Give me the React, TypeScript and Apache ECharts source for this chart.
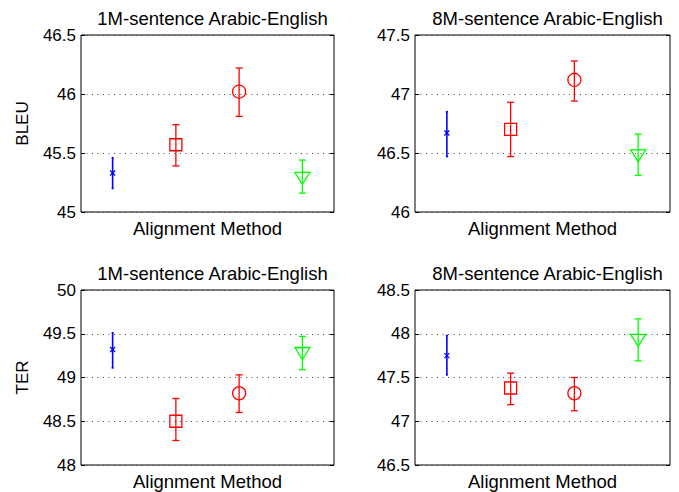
import React, { useEffect, useRef } from "react";
import * as echarts from "echarts";

// x positions of the four alignment methods
const methodPos = [1, 2, 3, 4];
const markerKinds = ["x", "square", "circle", "triangle"];
const markerColors = ["#0000ff", "#ff0000", "#ff0000", "#00ff00"];

const panelTitles = [
  "1M-sentence Arabic-English",
  "8M-sentence Arabic-English",
  "1M-sentence Arabic-English",
  "8M-sentence Arabic-English",
];
const rowNames = ["BLEU", "", "TER", ""];
const xName = "Alignment Method";

const yMin = [45, 46, 48, 46.5];
const yMax = [46.5, 47.5, 50, 48.5];

// BLEU 1M
const bleu1MMean = [45.33, 45.57, 46.02, 45.29];
const bleu1MLow = [45.2, 45.39, 45.81, 45.16];
const bleu1MHigh = [45.46, 45.74, 46.22, 45.44];
// BLEU 8M
const bleu8MMean = [46.67, 46.7, 47.12, 46.48];
const bleu8MLow = [46.47, 46.47, 46.94, 46.31];
const bleu8MHigh = [46.85, 46.93, 47.28, 46.66];
// TER 1M
const ter1MMean = [49.32, 48.5, 48.82, 49.28];
const ter1MLow = [49.11, 48.28, 48.6, 49.09];
const ter1MHigh = [49.51, 48.76, 49.03, 49.47];
// TER 8M
const ter8MMean = [47.75, 47.38, 47.32, 47.93];
const ter8MLow = [47.53, 47.19, 47.12, 47.69];
const ter8MHigh = [47.98, 47.55, 47.5, 48.17];

const panels = [
  [bleu1MMean, bleu1MLow, bleu1MHigh],
  [bleu8MMean, bleu8MLow, bleu8MHigh],
  [ter1MMean, ter1MLow, ter1MHigh],
  [ter8MMean, ter8MLow, ter8MHigh],
];

const FONT = "'Liberation Sans', Arial, Helvetica, sans-serif";

const grids = [
  { left: 81, top: 35, width: 253, height: 177 },
  { left: 415, top: 35, width: 255, height: 177 },
  { left: 81, top: 290, width: 253, height: 175 },
  { left: 415, top: 290, width: 255, height: 175 },
];

function renderItem(params: any, api: any) {
  const x = api.value(0);
  const m = api.value(1);
  const lo = api.value(2);
  const hi = api.value(3);
  const k = api.value(4);
  const pm = api.coord([x, m]);
  const plo = api.coord([x, lo]);
  const phi = api.coord([x, hi]);
  const color = markerColors[k];
  const kind = markerKinds[k];
  const lw = kind === "x" ? 1.6 : 1.3;
  const cx = pm[0];
  const cy = pm[1];
  const children: any[] = [
    {
      type: "line",
      shape: { x1: cx, y1: phi[1], x2: cx, y2: plo[1] },
      style: { stroke: color, lineWidth: lw },
    },
  ];
  const cap = kind === "x" ? 1 : 3.5;
  children.push({
    type: "line",
    shape: { x1: cx - cap, y1: phi[1], x2: cx + cap, y2: phi[1] },
    style: { stroke: color, lineWidth: lw },
  });
  children.push({
    type: "line",
    shape: { x1: cx - cap, y1: plo[1], x2: cx + cap, y2: plo[1] },
    style: { stroke: color, lineWidth: lw },
  });
  if (kind === "x") {
    const s = 2.5;
    children.push({
      type: "line",
      shape: { x1: cx - s, y1: cy - s, x2: cx + s, y2: cy + s },
      style: { stroke: color, lineWidth: 1.3 },
    });
    children.push({
      type: "line",
      shape: { x1: cx - s, y1: cy + s, x2: cx + s, y2: cy - s },
      style: { stroke: color, lineWidth: 1.3 },
    });
  } else if (kind === "square") {
    children.push({
      type: "rect",
      shape: { x: cx - 6, y: cy - 6, width: 12, height: 12 },
      style: { fill: "none", stroke: color, lineWidth: 1.3 },
    });
  } else if (kind === "circle") {
    children.push({
      type: "circle",
      shape: { cx, cy, r: 6.5 },
      style: { fill: "none", stroke: color, lineWidth: 1.3 },
    });
  } else {
    children.push({
      type: "polygon",
      shape: {
        points: [
          [cx - 7.5, cy - 5.5],
          [cx + 7.5, cy - 5.5],
          [cx, cy + 6.5],
        ],
      },
      style: { fill: "none", stroke: color, lineWidth: 1.3 },
    });
  }
  return { type: "group", children };
}

export default function App() {
  const ref = useRef<HTMLDivElement>(null);
  useEffect(() => {
    if (!ref.current) return;
    const chart = echarts.init(ref.current, null, { renderer: "svg" });
    const option: any = {
      animation: false,
      backgroundColor: "#ffffff",
      textStyle: { fontFamily: FONT },
      title: grids.map((g, i) => ({
        text: panelTitles[i],
        left: g.left + g.width / 2,
        textAlign: "center",
        top: i < 2 ? 4 : 259,
        textStyle: {
          fontFamily: FONT,
          fontSize: 18.5,
          fontWeight: "normal",
          color: "#000",
        },
      })),
      grid: grids.map((g) => ({
        ...g,
        show: true,
        borderColor: "#000",
        borderWidth: 1,
        backgroundColor: "#fff",
        containLabel: false,
      })),
      xAxis: grids.map((g, i) => ({
        type: "value",
        gridIndex: i,
        min: 0.5,
        max: 4.5,
        name: xName,
        nameLocation: "middle",
        nameGap: 7,
        nameTextStyle: {
          fontFamily: FONT,
          fontSize: 18.5,
          color: "#000",
          verticalAlign: "top",
        },
        axisLine: { show: false },
        axisTick: { show: false },
        axisLabel: { show: false },
        splitLine: { show: false },
      })),
      yAxis: [
        ...grids.map((g, i) => ({
          type: "value",
          gridIndex: i,
          position: "left",
          min: yMin[i],
          max: yMax[i],
          interval: 0.5,
          name: rowNames[i],
          nameLocation: "middle",
          nameGap: 50,
          nameTextStyle: { fontFamily: FONT, fontSize: 17, color: "#000" },
          axisLine: { show: false },
          axisTick: {
            show: true,
            inside: true,
            length: 4,
            lineStyle: { color: "#000" },
          },
          axisLabel: {
            fontFamily: FONT,
            fontSize: 17,
            color: "#000",
            margin: 5,
          },
          splitLine: {
            show: true,
            lineStyle: { color: "#444", type: [1, 4.5], width: 1 },
          },
        })),
        ...grids.map((g, i) => ({
          type: "value",
          gridIndex: i,
          position: "right",
          min: yMin[i],
          max: yMax[i],
          interval: 0.5,
          axisLine: { show: false },
          axisTick: {
            show: true,
            inside: true,
            length: 4,
            lineStyle: { color: "#000" },
          },
          axisLabel: { show: false },
          splitLine: { show: false },
        })),
      ],
      series: panels.map((p, gi) => ({
        type: "custom",
        xAxisIndex: gi,
        yAxisIndex: gi,
        renderItem,
        clip: false,
        data: methodPos.map((x, i) => [x, p[0][i], p[1][i], p[2][i], i]),
      })),
    };
    chart.setOption(option);
    return () => chart.dispose();
  }, []);
  return (
    <div
      ref={ref}
      style={{ position: "fixed", left: 0, top: 0, width: 679, height: 492 }}
    />
  );
}
